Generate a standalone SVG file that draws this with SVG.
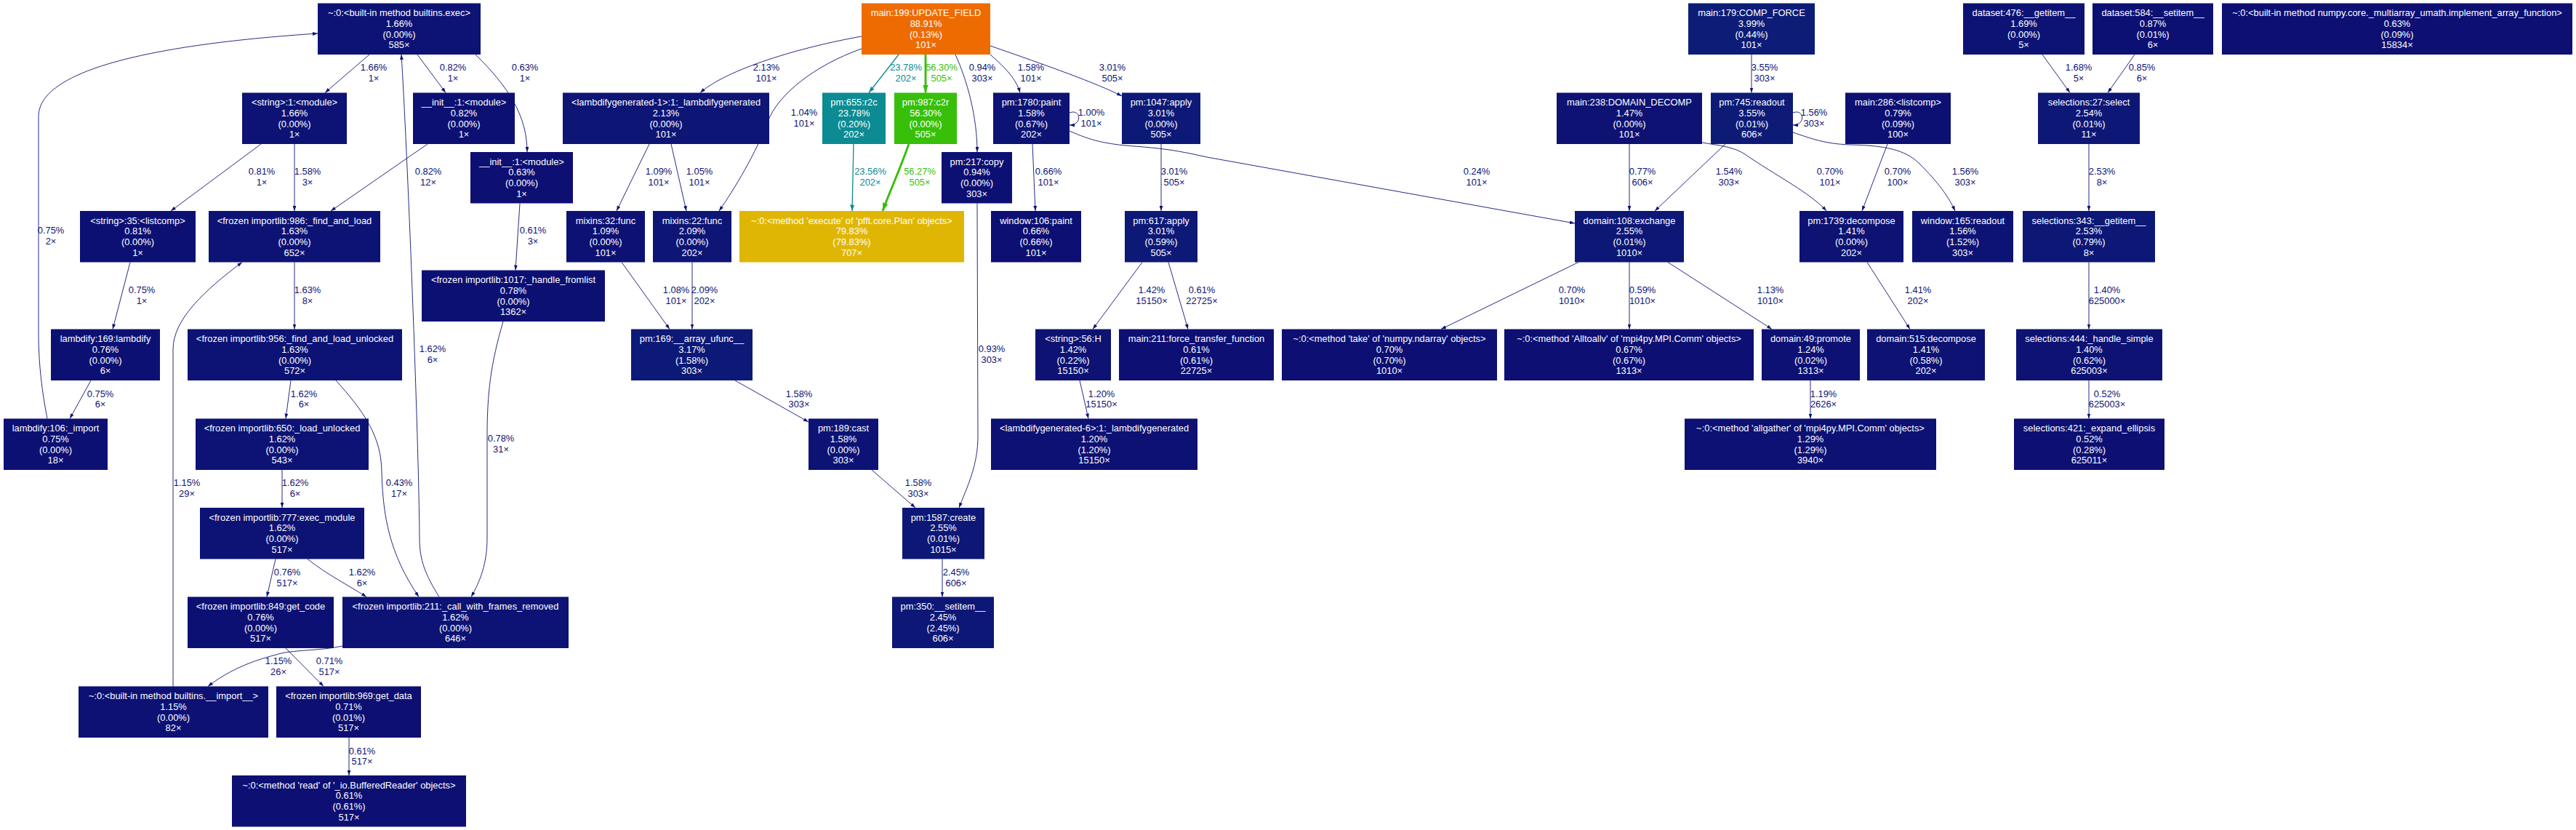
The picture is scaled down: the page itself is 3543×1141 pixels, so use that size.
<svg xmlns="http://www.w3.org/2000/svg" width="3543" height="1141" viewBox="0 0 3543 1141">
<style>
text{font-family:"Liberation Sans",Arial,Helvetica,sans-serif;font-size:12.9px;text-anchor:middle}
.n text{fill:#ffffff}
.c0{fill:#0d0f73}.c1{fill:#0d1073}.c2{fill:#0d1173}.c3{fill:#0d1273}.c4{fill:#0d1374}.c5{fill:#0d1575}.c6{fill:#0d1776}.c7{fill:#0d1976}.c8{fill:#0d1b77}.c9{fill:#0d1d77}
.cu{fill:#ee6b02}.cx{fill:#e0b604}.ct{fill:#0c8b92}.cg{fill:#37bf09}
.e{fill:none;stroke:#0d1374;stroke-width:0.9;marker-end:url(#an)}
.et{fill:none;stroke:#0c8a91;stroke-width:1.3;marker-end:url(#at)}
.eg{fill:none;stroke:#37bf09;stroke-width:2.9;marker-end:url(#ag)}
.l{fill:#0d1374}.lt{fill:#0c8a91}.lg{fill:#37bf09}
</style>
<defs>
<marker id="an" markerUnits="userSpaceOnUse" viewBox="0 0 10 7" refX="10" refY="3.5" markerWidth="7" markerHeight="4.9" orient="auto"><path d="M0,0L10,3.5L0,7z" fill="#0d1374"/></marker>
<marker id="at" markerUnits="userSpaceOnUse" viewBox="0 0 10 7" refX="10" refY="3.5" markerWidth="8.5" markerHeight="6" orient="auto"><path d="M0,0L10,3.5L0,7z" fill="#0c8a91"/></marker>
<marker id="ag" markerUnits="userSpaceOnUse" viewBox="0 0 10 7" refX="10" refY="3.5" markerWidth="11" markerHeight="7.7" orient="auto"><path d="M0,0L10,3.5L0,7z" fill="#37bf09"/></marker>
</defs>
<rect width="3543" height="1141" fill="#ffffff"/>
<g id="connectors">
<path class="e" d="M508,75L447,127.5"/><text class="l" x="514" y="97"><tspan x="514">1.66%</tspan><tspan x="514" dy="14.7">1×</tspan></text>
<path class="e" d="M574,75L613,127.5"/><text class="l" x="623" y="97"><tspan x="623">0.82%</tspan><tspan x="623" dy="14.7">1×</tspan></text>
<path class="e" d="M654,75C700,120 725,160 725,209"/><text class="l" x="722" y="97"><tspan x="722">0.63%</tspan><tspan x="722" dy="14.7">1×</tspan></text>
<path class="e" d="M359,198L235,290"/><text class="l" x="360" y="240"><tspan x="360">0.81%</tspan><tspan x="360" dy="14.7">1×</tspan></text>
<path class="e" d="M405,198L405,290"/><text class="l" x="423" y="240"><tspan x="423">1.58%</tspan><tspan x="423" dy="14.7">3×</tspan></text>
<path class="e" d="M588,198L455,290"/><text class="l" x="589" y="240"><tspan x="589">0.82%</tspan><tspan x="589" dy="14.7">12×</tspan></text>
<path class="e" d="M604,820.5C585,790 577,770 577,740C576,600 560,200 552,75"/><text class="l" x="595" y="484"><tspan x="595">1.62%</tspan><tspan x="595" dy="14.7">6×</tspan></text>
<path class="e" d="M65,575.5C58,540 53,500 53,460L53,160C53,80 300,55 437,46"/><text class="l" x="70" y="321"><tspan x="70">0.75%</tspan><tspan x="70" dy="14.7">2×</tspan></text>
<path class="e" d="M179,360.5L155,452.5"/><text class="l" x="195" y="403"><tspan x="195">0.75%</tspan><tspan x="195" dy="14.7">1×</tspan></text>
<path class="e" d="M125,523L96,575.5"/><text class="l" x="138" y="545.5"><tspan x="138">0.75%</tspan><tspan x="138" dy="14.7">6×</tspan></text>
<path class="e" d="M405,360.5L405,452.5"/><text class="l" x="423" y="403"><tspan x="423">1.63%</tspan><tspan x="423" dy="14.7">8×</tspan></text>
<path class="e" d="M400,523L393,575.5"/><text class="l" x="418" y="545.5"><tspan x="418">1.62%</tspan><tspan x="418" dy="14.7">6×</tspan></text>
<path class="e" d="M462,523C500,565 525,600 525,650C527,710 535,760 576,820.5"/><text class="l" x="549" y="668"><tspan x="549">0.43%</tspan><tspan x="549" dy="14.7">17×</tspan></text>
<path class="e" d="M388,646L388,698"/><text class="l" x="406" y="668"><tspan x="406">1.62%</tspan><tspan x="406" dy="14.7">6×</tspan></text>
<path class="e" d="M379,768.5L367,820.5"/><text class="l" x="395" y="791"><tspan x="395">0.76%</tspan><tspan x="395" dy="14.7">517×</tspan></text>
<path class="e" d="M423,768.5C450,790 480,805 504,820.5"/><text class="l" x="498" y="791"><tspan x="498">1.62%</tspan><tspan x="498" dy="14.7">6×</tspan></text>
<path class="e" d="M692,442C675,500 670,540 670,600L670,740C670,775 660,800 648,820.5"/><text class="l" x="689" y="607"><tspan x="689">0.78%</tspan><tspan x="689" dy="14.7">31×</tspan></text>
<path class="e" d="M715,279.5L709,371.5"/><text class="l" x="733" y="321"><tspan x="733">0.61%</tspan><tspan x="733" dy="14.7">3×</tspan></text>
<path class="e" d="M471,888C440,895 400,893 380,900C340,910 310,925 286,943.5"/><text class="l" x="383" y="913"><tspan x="383">1.15%</tspan><tspan x="383" dy="14.7">26×</tspan></text>
<path class="e" d="M393,891L445,943.5"/><text class="l" x="453" y="913"><tspan x="453">0.71%</tspan><tspan x="453" dy="14.7">517×</tspan></text>
<path class="e" d="M238,943.5L238,480C238,440 280,400 333,360.5"/><text class="l" x="257" y="668"><tspan x="257">1.15%</tspan><tspan x="257" dy="14.7">29×</tspan></text>
<path class="e" d="M480,1014L480,1066"/><text class="l" x="498" y="1036.5"><tspan x="498">0.61%</tspan><tspan x="498" dy="14.7">517×</tspan></text>
<path class="e" d="M1185,50C1100,65 1000,95 963,127.5"/><text class="l" x="1054" y="97"><tspan x="1054">2.13%</tspan><tspan x="1054" dy="14.7">101×</tspan></text>
<path class="e" d="M1185,67C1120,90 1070,130 1056,167C1040,210 1010,260 989,290"/><text class="l" x="1106" y="159"><tspan x="1106">1.04%</tspan><tspan x="1106" dy="14.7">101×</tspan></text>
<path class="et" d="M1236,75L1195,127.5"/><text class="lt" x="1246" y="97"><tspan x="1246">23.78%</tspan><tspan x="1246" dy="14.7">202×</tspan></text>
<path class="eg" d="M1273,75L1273,127.5"/><text class="lg" x="1295" y="97"><tspan x="1295">56.30%</tspan><tspan x="1295" dy="14.7">505×</tspan></text>
<path class="e" d="M1314,75C1330,110 1344,160 1344,209"/><text class="l" x="1351" y="97"><tspan x="1351">0.94%</tspan><tspan x="1351" dy="14.7">303×</tspan></text>
<path class="e" d="M1362,75C1385,95 1398,110 1403,127.5"/><text class="l" x="1418" y="97"><tspan x="1418">1.58%</tspan><tspan x="1418" dy="14.7">101×</tspan></text>
<path class="e" d="M1362,63C1440,90 1510,115 1543,132"/><text class="l" x="1530" y="97"><tspan x="1530">3.01%</tspan><tspan x="1530" dy="14.7">505×</tspan></text>
<path class="e" d="M1471,155C1487,149 1489,172 1471,172"/><text class="l" x="1501" y="159"><tspan x="1501">1.00%</tspan><tspan x="1501" dy="14.7">101×</tspan></text>
<path class="e" d="M1420,198L1424,290"/><text class="l" x="1442" y="240"><tspan x="1442">0.66%</tspan><tspan x="1442" dy="14.7">101×</tspan></text>
<path class="e" d="M1471,180C1500,193 1520,198 1560,201C1600,204 1620,207 1660,216L2166,307"/><text class="l" x="2031" y="240"><tspan x="2031">0.24%</tspan><tspan x="2031" dy="14.7">101×</tspan></text>
<path class="et" d="M1174,198L1172,290"/><text class="lt" x="1197" y="240"><tspan x="1197">23.56%</tspan><tspan x="1197" dy="14.7">202×</tspan></text>
<path class="eg" d="M1250,198C1235,240 1225,260 1214,290"/><text class="lg" x="1265" y="240"><tspan x="1265">56.27%</tspan><tspan x="1265" dy="14.7">505×</tspan></text>
<path class="e" d="M893,198L848,290"/><text class="l" x="906" y="240"><tspan x="906">1.09%</tspan><tspan x="906" dy="14.7">101×</tspan></text>
<path class="e" d="M923,198L944,290"/><text class="l" x="962" y="240"><tspan x="962">1.05%</tspan><tspan x="962" dy="14.7">101×</tspan></text>
<path class="e" d="M855,360.5L921,452.5"/><text class="l" x="930" y="403"><tspan x="930">1.08%</tspan><tspan x="930" dy="14.7">101×</tspan></text>
<path class="e" d="M952,360.5L952,452.5"/><text class="l" x="969" y="403"><tspan x="969">2.09%</tspan><tspan x="969" dy="14.7">202×</tspan></text>
<path class="e" d="M1011,523L1112,580"/><text class="l" x="1099" y="545.5"><tspan x="1099">1.58%</tspan><tspan x="1099" dy="14.7">303×</tspan></text>
<path class="e" d="M1199,646L1259,698"/><text class="l" x="1263" y="668"><tspan x="1263">1.58%</tspan><tspan x="1263" dy="14.7">303×</tspan></text>
<path class="e" d="M1344,279.5L1345,600C1345,640 1330,670 1319,698"/><text class="l" x="1364" y="484"><tspan x="1364">0.93%</tspan><tspan x="1364" dy="14.7">303×</tspan></text>
<path class="e" d="M1296,768.5L1296,820.5"/><text class="l" x="1315" y="791"><tspan x="1315">2.45%</tspan><tspan x="1315" dy="14.7">606×</tspan></text>
<path class="e" d="M1597,198L1597,290"/><text class="l" x="1615" y="240"><tspan x="1615">3.01%</tspan><tspan x="1615" dy="14.7">505×</tspan></text>
<path class="e" d="M1571,360.5L1503,452.5"/><text class="l" x="1584" y="403"><tspan x="1584">1.42%</tspan><tspan x="1584" dy="14.7">15150×</tspan></text>
<path class="e" d="M1607,360.5L1634,452.5"/><text class="l" x="1653" y="403"><tspan x="1653">0.61%</tspan><tspan x="1653" dy="14.7">22725×</tspan></text>
<path class="e" d="M1485,523L1497,575.5"/><text class="l" x="1515" y="545.5"><tspan x="1515">1.20%</tspan><tspan x="1515" dy="14.7">15150×</tspan></text>
<path class="e" d="M2409,75L2409,127.5"/><text class="l" x="2427" y="97"><tspan x="2427">3.55%</tspan><tspan x="2427" dy="14.7">303×</tspan></text>
<path class="e" d="M2466,155C2482,149 2484,172 2466,172"/><text class="l" x="2495" y="159"><tspan x="2495">1.56%</tspan><tspan x="2495" dy="14.7">303×</tspan></text>
<path class="e" d="M2241,198L2241,290"/><text class="l" x="2259" y="240"><tspan x="2259">0.77%</tspan><tspan x="2259" dy="14.7">606×</tspan></text>
<path class="e" d="M2373,198L2276,290"/><text class="l" x="2378" y="240"><tspan x="2378">1.54%</tspan><tspan x="2378" dy="14.7">303×</tspan></text>
<path class="e" d="M2341,196C2365,200 2385,202 2400,212C2440,240 2490,265 2512,290"/><text class="l" x="2517" y="240"><tspan x="2517">0.70%</tspan><tspan x="2517" dy="14.7">101×</tspan></text>
<path class="e" d="M2596,198L2561,290"/><text class="l" x="2610" y="240"><tspan x="2610">0.70%</tspan><tspan x="2610" dy="14.7">100×</tspan></text>
<path class="e" d="M2466,182C2490,190 2510,198 2545,199C2590,200 2620,205 2640,225C2665,250 2680,270 2689,290"/><text class="l" x="2703" y="240"><tspan x="2703">1.56%</tspan><tspan x="2703" dy="14.7">303×</tspan></text>
<path class="e" d="M2809,75L2847,127.5"/><text class="l" x="2859" y="97"><tspan x="2859">1.68%</tspan><tspan x="2859" dy="14.7">5×</tspan></text>
<path class="e" d="M2936,75L2899,127.5"/><text class="l" x="2946" y="97"><tspan x="2946">0.85%</tspan><tspan x="2946" dy="14.7">6×</tspan></text>
<path class="e" d="M2873,198L2873,290"/><text class="l" x="2891" y="240"><tspan x="2891">2.53%</tspan><tspan x="2891" dy="14.7">8×</tspan></text>
<path class="e" d="M2873,360.5L2873,452.5"/><text class="l" x="2898" y="403"><tspan x="2898">1.40%</tspan><tspan x="2898" dy="14.7">625000×</tspan></text>
<path class="e" d="M2873,523L2873,575.5"/><text class="l" x="2898" y="545.5"><tspan x="2898">0.52%</tspan><tspan x="2898" dy="14.7">625003×</tspan></text>
<path class="e" d="M2171,360.5L1982,452.5"/><text class="l" x="2162" y="403"><tspan x="2162">0.70%</tspan><tspan x="2162" dy="14.7">1010×</tspan></text>
<path class="e" d="M2241,360.5L2241,452.5"/><text class="l" x="2259" y="403"><tspan x="2259">0.59%</tspan><tspan x="2259" dy="14.7">1010×</tspan></text>
<path class="e" d="M2294,360.5L2437,452.5"/><text class="l" x="2435" y="403"><tspan x="2435">1.13%</tspan><tspan x="2435" dy="14.7">1010×</tspan></text>
<path class="e" d="M2568,360.5L2627,452.5"/><text class="l" x="2638" y="403"><tspan x="2638">1.41%</tspan><tspan x="2638" dy="14.7">202×</tspan></text>
<path class="e" d="M2490,523L2490,575.5"/><text class="l" x="2508" y="545.5"><tspan x="2508">1.19%</tspan><tspan x="2508" dy="14.7">2626×</tspan></text>
</g>
<g id="n_exec" class="n"><rect class="c4" x="437" y="4.5" width="224" height="70.5"/><text x="549" y="22.1"><tspan x="549">~:0:&lt;built-in method builtins.exec&gt;</tspan><tspan x="549" dy="14.7">1.66%</tspan><tspan x="549" dy="14.7">(0.00%)</tspan><tspan x="549" dy="14.7">585×</tspan></text></g>
<g id="n_update_field" class="n"><rect class="cu" x="1185" y="4.5" width="177" height="70.5"/><text x="1273.5" y="22.1"><tspan x="1273.5">main:199:UPDATE_FIELD</tspan><tspan x="1273.5" dy="14.7">88.91%</tspan><tspan x="1273.5" dy="14.7">(0.13%)</tspan><tspan x="1273.5" dy="14.7">101×</tspan></text></g>
<g id="n_comp_force" class="n"><rect class="c9" x="2322" y="4.5" width="174" height="70.5"/><text x="2409" y="22.1"><tspan x="2409">main:179:COMP_FORCE</tspan><tspan x="2409" dy="14.7">3.99%</tspan><tspan x="2409" dy="14.7">(0.44%)</tspan><tspan x="2409" dy="14.7">101×</tspan></text></g>
<g id="n_dataset476" class="n"><rect class="c4" x="2700" y="4.5" width="167" height="70.5"/><text x="2783.5" y="22.1"><tspan x="2783.5">dataset:476:__getitem__</tspan><tspan x="2783.5" dy="14.7">1.69%</tspan><tspan x="2783.5" dy="14.7">(0.00%)</tspan><tspan x="2783.5" dy="14.7">5×</tspan></text></g>
<g id="n_dataset584" class="n"><rect class="c1" x="2878" y="4.5" width="166" height="70.5"/><text x="2961" y="22.1"><tspan x="2961">dataset:584:__setitem__</tspan><tspan x="2961" dy="14.7">0.87%</tspan><tspan x="2961" dy="14.7">(0.01%)</tspan><tspan x="2961" dy="14.7">6×</tspan></text></g>
<g id="n_numpy_impl" class="n"><rect class="c0" x="3056" y="4.5" width="482" height="70.5"/><text x="3297" y="22.1"><tspan x="3297">~:0:&lt;built-in method numpy.core._multiarray_umath.implement_array_function&gt;</tspan><tspan x="3297" dy="14.7">0.63%</tspan><tspan x="3297" dy="14.7">(0.09%)</tspan><tspan x="3297" dy="14.7">15834×</tspan></text></g>
<g id="n_string_module" class="n"><rect class="c4" x="333" y="127.5" width="144" height="70.5"/><text x="405" y="145.1"><tspan x="405">&lt;string&gt;:1:&lt;module&gt;</tspan><tspan x="405" dy="14.7">1.66%</tspan><tspan x="405" dy="14.7">(0.00%)</tspan><tspan x="405" dy="14.7">1×</tspan></text></g>
<g id="n_init082" class="n"><rect class="c1" x="568" y="127.5" width="140" height="70.5"/><text x="638" y="145.1"><tspan x="638">__init__:1:&lt;module&gt;</tspan><tspan x="638" dy="14.7">0.82%</tspan><tspan x="638" dy="14.7">(0.00%)</tspan><tspan x="638" dy="14.7">1×</tspan></text></g>
<g id="n_lambdagen1" class="n"><rect class="c5" x="774" y="127.5" width="284" height="70.5"/><text x="916" y="145.1"><tspan x="916">&lt;lambdifygenerated-1&gt;:1:_lambdifygenerated</tspan><tspan x="916" dy="14.7">2.13%</tspan><tspan x="916" dy="14.7">(0.00%)</tspan><tspan x="916" dy="14.7">101×</tspan></text></g>
<g id="n_r2c" class="n"><rect class="ct" x="1131" y="127.5" width="87" height="70.5"/><text x="1174.5" y="145.1"><tspan x="1174.5">pm:655:r2c</tspan><tspan x="1174.5" dy="14.7">23.78%</tspan><tspan x="1174.5" dy="14.7">(0.20%)</tspan><tspan x="1174.5" dy="14.7">202×</tspan></text></g>
<g id="n_c2r" class="n"><rect class="cg" x="1230" y="127.5" width="86" height="70.5"/><text x="1273" y="145.1"><tspan x="1273">pm:987:c2r</tspan><tspan x="1273" dy="14.7">56.30%</tspan><tspan x="1273" dy="14.7">(0.00%)</tspan><tspan x="1273" dy="14.7">505×</tspan></text></g>
<g id="n_paint1780" class="n"><rect class="c4" x="1366" y="127.5" width="105" height="70.5"/><text x="1418.5" y="145.1"><tspan x="1418.5">pm:1780:paint</tspan><tspan x="1418.5" dy="14.7">1.58%</tspan><tspan x="1418.5" dy="14.7">(0.67%)</tspan><tspan x="1418.5" dy="14.7">202×</tspan></text></g>
<g id="n_apply1047" class="n"><rect class="c7" x="1543" y="127.5" width="108" height="70.5"/><text x="1597" y="145.1"><tspan x="1597">pm:1047:apply</tspan><tspan x="1597" dy="14.7">3.01%</tspan><tspan x="1597" dy="14.7">(0.00%)</tspan><tspan x="1597" dy="14.7">505×</tspan></text></g>
<g id="n_domain_decomp" class="n"><rect class="c3" x="2141" y="127.5" width="200" height="70.5"/><text x="2241" y="145.1"><tspan x="2241">main:238:DOMAIN_DECOMP</tspan><tspan x="2241" dy="14.7">1.47%</tspan><tspan x="2241" dy="14.7">(0.00%)</tspan><tspan x="2241" dy="14.7">101×</tspan></text></g>
<g id="n_readout745" class="n"><rect class="c8" x="2353" y="127.5" width="113" height="70.5"/><text x="2409.5" y="145.1"><tspan x="2409.5">pm:745:readout</tspan><tspan x="2409.5" dy="14.7">3.55%</tspan><tspan x="2409.5" dy="14.7">(0.01%)</tspan><tspan x="2409.5" dy="14.7">606×</tspan></text></g>
<g id="n_listcomp286" class="n"><rect class="c1" x="2538" y="127.5" width="145" height="70.5"/><text x="2610.5" y="145.1"><tspan x="2610.5">main:286:&lt;listcomp&gt;</tspan><tspan x="2610.5" dy="14.7">0.79%</tspan><tspan x="2610.5" dy="14.7">(0.09%)</tspan><tspan x="2610.5" dy="14.7">100×</tspan></text></g>
<g id="n_selections27" class="n"><rect class="c6" x="2803" y="127.5" width="140" height="70.5"/><text x="2873" y="145.1"><tspan x="2873">selections:27:select</tspan><tspan x="2873" dy="14.7">2.54%</tspan><tspan x="2873" dy="14.7">(0.01%)</tspan><tspan x="2873" dy="14.7">11×</tspan></text></g>
<g id="n_init063" class="n"><rect class="c0" x="647" y="209" width="141" height="70.5"/><text x="717.5" y="226.6"><tspan x="717.5">__init__:1:&lt;module&gt;</tspan><tspan x="717.5" dy="14.7">0.63%</tspan><tspan x="717.5" dy="14.7">(0.00%)</tspan><tspan x="717.5" dy="14.7">1×</tspan></text></g>
<g id="n_copy217" class="n"><rect class="c1" x="1295" y="209" width="97" height="70.5"/><text x="1343.5" y="226.6"><tspan x="1343.5">pm:217:copy</tspan><tspan x="1343.5" dy="14.7">0.94%</tspan><tspan x="1343.5" dy="14.7">(0.00%)</tspan><tspan x="1343.5" dy="14.7">303×</tspan></text></g>
<g id="n_listcomp35" class="n"><rect class="c1" x="110" y="290" width="159" height="70.5"/><text x="189.5" y="307.6"><tspan x="189.5">&lt;string&gt;:35:&lt;listcomp&gt;</tspan><tspan x="189.5" dy="14.7">0.81%</tspan><tspan x="189.5" dy="14.7">(0.00%)</tspan><tspan x="189.5" dy="14.7">1×</tspan></text></g>
<g id="n_find_and_load" class="n"><rect class="c4" x="287" y="290" width="236" height="70.5"/><text x="405" y="307.6"><tspan x="405">&lt;frozen importlib:986:_find_and_load</tspan><tspan x="405" dy="14.7">1.63%</tspan><tspan x="405" dy="14.7">(0.00%)</tspan><tspan x="405" dy="14.7">652×</tspan></text></g>
<g id="n_mixins32" class="n"><rect class="c2" x="779" y="290" width="108" height="70.5"/><text x="833" y="307.6"><tspan x="833">mixins:32:func</tspan><tspan x="833" dy="14.7">1.09%</tspan><tspan x="833" dy="14.7">(0.00%)</tspan><tspan x="833" dy="14.7">101×</tspan></text></g>
<g id="n_mixins22" class="n"><rect class="c5" x="898" y="290" width="108" height="70.5"/><text x="952" y="307.6"><tspan x="952">mixins:22:func</tspan><tspan x="952" dy="14.7">2.09%</tspan><tspan x="952" dy="14.7">(0.00%)</tspan><tspan x="952" dy="14.7">202×</tspan></text></g>
<g id="n_execute" class="n"><rect class="cx" x="1017" y="290" width="309" height="70.5"/><text x="1171.5" y="307.6"><tspan x="1171.5">~:0:&lt;method 'execute' of 'pfft.core.Plan' objects&gt;</tspan><tspan x="1171.5" dy="14.7">79.83%</tspan><tspan x="1171.5" dy="14.7">(79.83%)</tspan><tspan x="1171.5" dy="14.7">707×</tspan></text></g>
<g id="n_window106" class="n"><rect class="c0" x="1363" y="290" width="124" height="70.5"/><text x="1425" y="307.6"><tspan x="1425">window:106:paint</tspan><tspan x="1425" dy="14.7">0.66%</tspan><tspan x="1425" dy="14.7">(0.66%)</tspan><tspan x="1425" dy="14.7">101×</tspan></text></g>
<g id="n_apply617" class="n"><rect class="c7" x="1547" y="290" width="100" height="70.5"/><text x="1597" y="307.6"><tspan x="1597">pm:617:apply</tspan><tspan x="1597" dy="14.7">3.01%</tspan><tspan x="1597" dy="14.7">(0.59%)</tspan><tspan x="1597" dy="14.7">505×</tspan></text></g>
<g id="n_domain108" class="n"><rect class="c6" x="2166" y="290" width="150" height="70.5"/><text x="2241" y="307.6"><tspan x="2241">domain:108:exchange</tspan><tspan x="2241" dy="14.7">2.55%</tspan><tspan x="2241" dy="14.7">(0.01%)</tspan><tspan x="2241" dy="14.7">1010×</tspan></text></g>
<g id="n_decompose1739" class="n"><rect class="c3" x="2475" y="290" width="143" height="70.5"/><text x="2546.5" y="307.6"><tspan x="2546.5">pm:1739:decompose</tspan><tspan x="2546.5" dy="14.7">1.41%</tspan><tspan x="2546.5" dy="14.7">(0.00%)</tspan><tspan x="2546.5" dy="14.7">202×</tspan></text></g>
<g id="n_window165" class="n"><rect class="c4" x="2630" y="290" width="139" height="70.5"/><text x="2699.5" y="307.6"><tspan x="2699.5">window:165:readout</tspan><tspan x="2699.5" dy="14.7">1.56%</tspan><tspan x="2699.5" dy="14.7">(1.52%)</tspan><tspan x="2699.5" dy="14.7">303×</tspan></text></g>
<g id="n_selections343" class="n"><rect class="c6" x="2782" y="290" width="182" height="70.5"/><text x="2873" y="307.6"><tspan x="2873">selections:343:__getitem__</tspan><tspan x="2873" dy="14.7">2.53%</tspan><tspan x="2873" dy="14.7">(0.79%)</tspan><tspan x="2873" dy="14.7">8×</tspan></text></g>
<g id="n_handle_fromlist" class="n"><rect class="c1" x="580" y="371.5" width="252" height="70.5"/><text x="706" y="389.1"><tspan x="706">&lt;frozen importlib:1017:_handle_fromlist</tspan><tspan x="706" dy="14.7">0.78%</tspan><tspan x="706" dy="14.7">(0.00%)</tspan><tspan x="706" dy="14.7">1362×</tspan></text></g>
<g id="n_lambdify169" class="n"><rect class="c1" x="70" y="452.5" width="150" height="70.5"/><text x="145" y="470.1"><tspan x="145">lambdify:169:lambdify</tspan><tspan x="145" dy="14.7">0.76%</tspan><tspan x="145" dy="14.7">(0.00%)</tspan><tspan x="145" dy="14.7">6×</tspan></text></g>
<g id="n_find_and_load_unlocked" class="n"><rect class="c4" x="258" y="452.5" width="295" height="70.5"/><text x="405.5" y="470.1"><tspan x="405.5">&lt;frozen importlib:956:_find_and_load_unlocked</tspan><tspan x="405.5" dy="14.7">1.63%</tspan><tspan x="405.5" dy="14.7">(0.00%)</tspan><tspan x="405.5" dy="14.7">572×</tspan></text></g>
<g id="n_array_ufunc" class="n"><rect class="c7" x="868" y="452.5" width="167" height="70.5"/><text x="951.5" y="470.1"><tspan x="951.5">pm:169:__array_ufunc__</tspan><tspan x="951.5" dy="14.7">3.17%</tspan><tspan x="951.5" dy="14.7">(1.58%)</tspan><tspan x="951.5" dy="14.7">303×</tspan></text></g>
<g id="n_string56h" class="n"><rect class="c3" x="1424" y="452.5" width="104" height="70.5"/><text x="1476" y="470.1"><tspan x="1476">&lt;string&gt;:56:H</tspan><tspan x="1476" dy="14.7">1.42%</tspan><tspan x="1476" dy="14.7">(0.22%)</tspan><tspan x="1476" dy="14.7">15150×</tspan></text></g>
<g id="n_force_transfer" class="n"><rect class="c0" x="1539" y="452.5" width="213" height="70.5"/><text x="1645.5" y="470.1"><tspan x="1645.5">main:211:force_transfer_function</tspan><tspan x="1645.5" dy="14.7">0.61%</tspan><tspan x="1645.5" dy="14.7">(0.61%)</tspan><tspan x="1645.5" dy="14.7">22725×</tspan></text></g>
<g id="n_take" class="n"><rect class="c0" x="1763" y="452.5" width="296" height="70.5"/><text x="1911" y="470.1"><tspan x="1911">~:0:&lt;method 'take' of 'numpy.ndarray' objects&gt;</tspan><tspan x="1911" dy="14.7">0.70%</tspan><tspan x="1911" dy="14.7">(0.70%)</tspan><tspan x="1911" dy="14.7">1010×</tspan></text></g>
<g id="n_alltoallv" class="n"><rect class="c0" x="2069" y="452.5" width="343" height="70.5"/><text x="2240.5" y="470.1"><tspan x="2240.5">~:0:&lt;method 'Alltoallv' of 'mpi4py.MPI.Comm' objects&gt;</tspan><tspan x="2240.5" dy="14.7">0.67%</tspan><tspan x="2240.5" dy="14.7">(0.67%)</tspan><tspan x="2240.5" dy="14.7">1313×</tspan></text></g>
<g id="n_promote" class="n"><rect class="c2" x="2423" y="452.5" width="135" height="70.5"/><text x="2490.5" y="470.1"><tspan x="2490.5">domain:49:promote</tspan><tspan x="2490.5" dy="14.7">1.24%</tspan><tspan x="2490.5" dy="14.7">(0.02%)</tspan><tspan x="2490.5" dy="14.7">1313×</tspan></text></g>
<g id="n_domain515" class="n"><rect class="c3" x="2568" y="452.5" width="162" height="70.5"/><text x="2649" y="470.1"><tspan x="2649">domain:515:decompose</tspan><tspan x="2649" dy="14.7">1.41%</tspan><tspan x="2649" dy="14.7">(0.58%)</tspan><tspan x="2649" dy="14.7">202×</tspan></text></g>
<g id="n_selections444" class="n"><rect class="c3" x="2773" y="452.5" width="201" height="70.5"/><text x="2873.5" y="470.1"><tspan x="2873.5">selections:444:_handle_simple</tspan><tspan x="2873.5" dy="14.7">1.40%</tspan><tspan x="2873.5" dy="14.7">(0.62%)</tspan><tspan x="2873.5" dy="14.7">625003×</tspan></text></g>
<g id="n_lambdify106" class="n"><rect class="c1" x="5" y="575.5" width="143" height="70.5"/><text x="76.5" y="593.1"><tspan x="76.5">lambdify:106:_import</tspan><tspan x="76.5" dy="14.7">0.75%</tspan><tspan x="76.5" dy="14.7">(0.00%)</tspan><tspan x="76.5" dy="14.7">18×</tspan></text></g>
<g id="n_load_unlocked" class="n"><rect class="c4" x="269" y="575.5" width="238" height="70.5"/><text x="388" y="593.1"><tspan x="388">&lt;frozen importlib:650:_load_unlocked</tspan><tspan x="388" dy="14.7">1.62%</tspan><tspan x="388" dy="14.7">(0.00%)</tspan><tspan x="388" dy="14.7">543×</tspan></text></g>
<g id="n_cast" class="n"><rect class="c4" x="1112" y="575.5" width="96" height="70.5"/><text x="1160" y="593.1"><tspan x="1160">pm:189:cast</tspan><tspan x="1160" dy="14.7">1.58%</tspan><tspan x="1160" dy="14.7">(0.00%)</tspan><tspan x="1160" dy="14.7">303×</tspan></text></g>
<g id="n_lambdagen6" class="n"><rect class="c2" x="1363" y="575.5" width="284" height="70.5"/><text x="1505" y="593.1"><tspan x="1505">&lt;lambdifygenerated-6&gt;:1:_lambdifygenerated</tspan><tspan x="1505" dy="14.7">1.20%</tspan><tspan x="1505" dy="14.7">(1.20%)</tspan><tspan x="1505" dy="14.7">15150×</tspan></text></g>
<g id="n_allgather" class="n"><rect class="c2" x="2317" y="575.5" width="346" height="70.5"/><text x="2490" y="593.1"><tspan x="2490">~:0:&lt;method 'allgather' of 'mpi4py.MPI.Comm' objects&gt;</tspan><tspan x="2490" dy="14.7">1.29%</tspan><tspan x="2490" dy="14.7">(1.29%)</tspan><tspan x="2490" dy="14.7">3940×</tspan></text></g>
<g id="n_selections421" class="n"><rect class="c0" x="2770" y="575.5" width="207" height="70.5"/><text x="2873.5" y="593.1"><tspan x="2873.5">selections:421:_expand_ellipsis</tspan><tspan x="2873.5" dy="14.7">0.52%</tspan><tspan x="2873.5" dy="14.7">(0.28%)</tspan><tspan x="2873.5" dy="14.7">625011×</tspan></text></g>
<g id="n_exec_module" class="n"><rect class="c4" x="275" y="698" width="226" height="70.5"/><text x="388" y="715.6"><tspan x="388">&lt;frozen importlib:777:exec_module</tspan><tspan x="388" dy="14.7">1.62%</tspan><tspan x="388" dy="14.7">(0.00%)</tspan><tspan x="388" dy="14.7">517×</tspan></text></g>
<g id="n_create" class="n"><rect class="c6" x="1241" y="698" width="113" height="70.5"/><text x="1297.5" y="715.6"><tspan x="1297.5">pm:1587:create</tspan><tspan x="1297.5" dy="14.7">2.55%</tspan><tspan x="1297.5" dy="14.7">(0.01%)</tspan><tspan x="1297.5" dy="14.7">1015×</tspan></text></g>
<g id="n_get_code" class="n"><rect class="c1" x="258" y="820.5" width="201" height="70.5"/><text x="358.5" y="838.1"><tspan x="358.5">&lt;frozen importlib:849:get_code</tspan><tspan x="358.5" dy="14.7">0.76%</tspan><tspan x="358.5" dy="14.7">(0.00%)</tspan><tspan x="358.5" dy="14.7">517×</tspan></text></g>
<g id="n_call_with_frames" class="n"><rect class="c4" x="471" y="820.5" width="311" height="70.5"/><text x="626.5" y="838.1"><tspan x="626.5">&lt;frozen importlib:211:_call_with_frames_removed</tspan><tspan x="626.5" dy="14.7">1.62%</tspan><tspan x="626.5" dy="14.7">(0.00%)</tspan><tspan x="626.5" dy="14.7">646×</tspan></text></g>
<g id="n_setitem350" class="n"><rect class="c6" x="1227" y="820.5" width="140" height="70.5"/><text x="1297" y="838.1"><tspan x="1297">pm:350:__setitem__</tspan><tspan x="1297" dy="14.7">2.45%</tspan><tspan x="1297" dy="14.7">(2.45%)</tspan><tspan x="1297" dy="14.7">606×</tspan></text></g>
<g id="n_import" class="n"><rect class="c2" x="108" y="943.5" width="261" height="70.5"/><text x="238.5" y="961.1"><tspan x="238.5">~:0:&lt;built-in method builtins.__import__&gt;</tspan><tspan x="238.5" dy="14.7">1.15%</tspan><tspan x="238.5" dy="14.7">(0.00%)</tspan><tspan x="238.5" dy="14.7">82×</tspan></text></g>
<g id="n_get_data" class="n"><rect class="c0" x="380" y="943.5" width="199" height="70.5"/><text x="479.5" y="961.1"><tspan x="479.5">&lt;frozen importlib:969:get_data</tspan><tspan x="479.5" dy="14.7">0.71%</tspan><tspan x="479.5" dy="14.7">(0.01%)</tspan><tspan x="479.5" dy="14.7">517×</tspan></text></g>
<g id="n_read" class="n"><rect class="c0" x="319" y="1066" width="322" height="70.5"/><text x="480" y="1083.6"><tspan x="480">~:0:&lt;method 'read' of '_io.BufferedReader' objects&gt;</tspan><tspan x="480" dy="14.7">0.61%</tspan><tspan x="480" dy="14.7">(0.61%)</tspan><tspan x="480" dy="14.7">517×</tspan></text></g>
</svg>
